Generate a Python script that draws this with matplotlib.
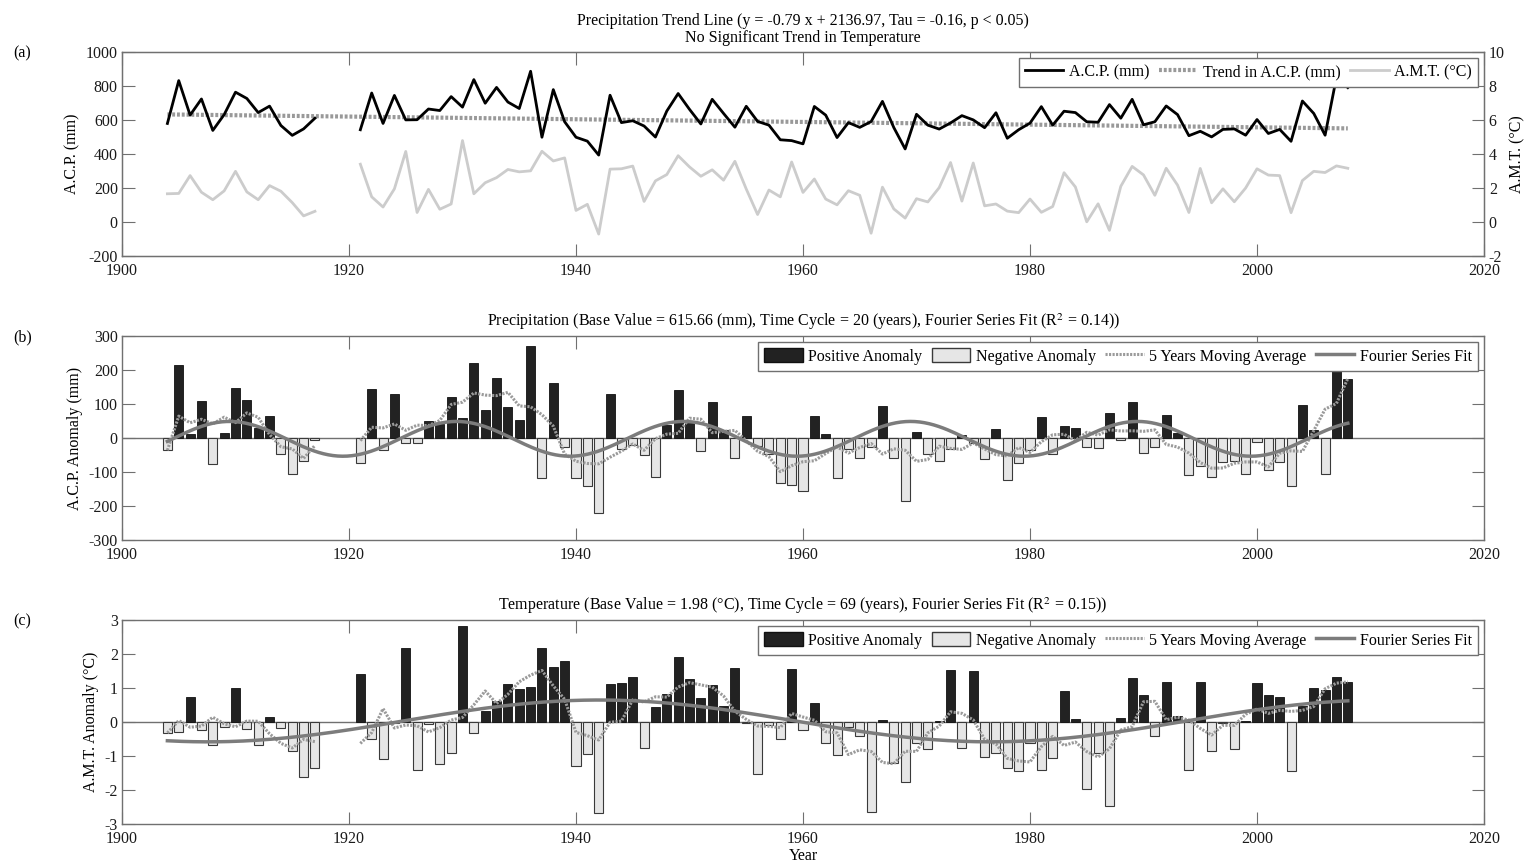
import numpy as np
import matplotlib
matplotlib.use('Agg')
import matplotlib.pyplot as plt
from matplotlib.patches import Patch
from matplotlib.lines import Line2D

plt.rcParams['font.family'] = ['Liberation Serif', 'DejaVu Serif']
plt.rcParams['font.size'] = 11.5
plt.rcParams['mathtext.fontset'] = 'stix'
plt.rcParams['axes.unicode_minus'] = False

# observation years (record missing 1918-1920)
years = list(range(1904, 1918)) + list(range(1921, 2009))

# annual cumulative precipitation anomaly (mm)
acp_anom = [-36, 216, 13, 108, -77, 16, 148, 111, 28, 66, -48, -106, -68, -5,
            -73, 143, -36, 129, -15, -14, 49, 40, 122, 60, 222, 83, 176, 90, 52, 271,
            -117, 163, -26, -117, -140, -222, 130,
            -31, -20, -51, -116, 37, 140, 47, -39, 106, 23,
            -58, 65, -24, -46, -132, -137, -156, 64, 13, -119,
            -31, -59, -25, 94, -60, -186, 18, -46, -69, -33,
            10, -15, -61, 27, -123, -73, -34, 63, -46, 36, 28, -26,
            -29, 75, -5, 106, -44, -26, 67, 16, -108, -82, -115, -71, -68, -105,
            -13, -95, -71, -141, 96, 23, -105, 235, 175]

# annual mean temperature anomaly (degC)
amt_anom = [-0.32, -0.30, 0.75, -0.23, -0.67, -0.15, 1.00, -0.21, -0.67, 0.16, -0.17, -0.84, -1.62, -1.35,
            1.42, -0.50, -1.10, -0.03, 2.17, -1.42, -0.06, -1.23, -0.92, 2.81, -0.32, 0.33,
            0.63, 1.11, 0.97, 1.03, 2.18, 1.61, 1.79, -1.30, -0.94, -2.69, 1.13,
            1.15, 1.31, -0.77, 0.44, 0.81, 1.92, 1.26, 0.71, 1.09, 0.48,
            1.59, -0.04, -1.54, -0.10, -0.50, 1.55, -0.24, 0.55, -0.63, -0.97,
            -0.14, -0.41, -2.64, 0.07, -1.21, -1.75, -0.61, -0.80, 0.04, 1.52,
            -0.75, 1.49, -1.03, -0.92, -1.34, -1.43, -0.63, -1.41, -1.07, 0.92, 0.08, -1.97,
            -0.91, -2.47, 0.12, 1.29, 0.79, -0.41, 1.18, 0.19, -1.42, 1.17, -0.85, -0.03,
            -0.79, 0.02, 1.15, 0.78, 0.75, -1.43, 0.46, 1.00, 0.93, 1.32, 1.18]

base_p = 615.66
base_t = 1.98
trend_slope = -0.79
trend_icpt = 2136.97
cycle_p = 20
cycle_t = 69

x = np.array(years, dtype=float)
acp_anom = np.array(acp_anom, dtype=float)
amt_anom = np.array(amt_anom, dtype=float)
acp = base_p + acp_anom
amt = base_t + amt_anom


def with_gap(xv, yv):
    # put a NaN where years jump so the line breaks
    cut = np.where(np.diff(xv) > 1)[0] + 1
    return np.insert(xv, cut, np.nan), np.insert(yv, cut, np.nan)


def smooth5(yv):
    # moving average, span shrinks at the ends (like matlab smooth)
    n = len(yv)
    out = []
    for i in range(n):
        k = min(i, n - 1 - i, 2)
        out.append(yv[i - k:i + k + 1].mean())
    return np.array(out)


def fourier1(xv, yv, period):
    w = 2 * np.pi / period
    A = np.column_stack([np.ones_like(xv), np.cos(w * xv), np.sin(w * xv)])
    c = np.linalg.lstsq(A, yv, rcond=None)[0]
    xs = np.linspace(xv.min(), xv.max(), 500)
    return xs, c[0] + c[1] * np.cos(w * xs) + c[2] * np.sin(w * xs)


spine_col = '#707070'
pos_col = '#222222'
neg_col = '#e6e6e6'
ma_col = '#9a9a9a'
fit_col = '#7c7c7c'
dots = (0, (0.7, 0.45))


def style_axes(ax):
    for s in ax.spines.values():
        s.set_color(spine_col)
        s.set_linewidth(1.0)
    ax.tick_params(direction='in', length=9, color=spine_col, labelcolor='#1a1a1a',
                   top=True, right=True, labelsize=11.5)
    ax.tick_params(axis='x', pad=5)
    ax.tick_params(axis='y', pad=3)
    ax.set_xlim(1900, 2020)
    ax.set_xticks(range(1900, 2021, 20))


leg_kw = dict(loc='upper right', fontsize=11.5, fancybox=False, framealpha=1,
              edgecolor=spine_col, borderaxespad=0.35, handlelength=2.4, handleheight=1.0,
              columnspacing=0.6, handletextpad=0.35, borderpad=0.4)

fig = plt.figure(figsize=(15.28, 8.65), dpi=100)
L, W, H = 122 / 1528, 1362 / 1528, 204 / 865
ax_a = fig.add_axes([L, 1 - 256 / 865, W, H])
ax_b = fig.add_axes([L, 1 - 540 / 865, W, H])
ax_c = fig.add_axes([L, 1 - 824 / 865, W, H])

# ---- (a) raw series
style_axes(ax_a)
ax_a.tick_params(right=False)
xg, pg = with_gap(x, acp)
_, tg = with_gap(x, amt)
ty = np.arange(1904, 2009)
ax_a.plot(ty, trend_slope * ty + trend_icpt, color='#999999', lw=3, ls=dots)
ax_a.plot(xg, pg, color='black', lw=2)
ax_a.set_ylim(-200, 1000)
ax_a.set_yticks(range(-200, 1001, 200))
ax_a.set_ylabel('A.C.P. (mm)', labelpad=4)

ax_t = ax_a.twinx()
ax_t.plot(xg, tg, color='#cccccc', lw=2)
ax_t.set_ylim(-2, 10)
ax_t.set_yticks(range(-2, 11, 2))
for s in ax_t.spines.values():
    s.set_color(spine_col)
ax_t.tick_params(direction='in', length=9, color=spine_col, labelcolor='#1a1a1a', labelsize=11.5)
ax_t.set_ylabel('A.M.T. (°C)', labelpad=3)

h_a = [Line2D([], [], color='black', lw=2),
       Line2D([], [], color='#999999', lw=3, ls=dots),
       Line2D([], [], color='#cccccc', lw=2)]
leg = ax_t.legend(h_a, ['A.C.P. (mm)', 'Trend in A.C.P. (mm)', 'A.M.T. (°C)'], ncol=3, **leg_kw)
leg.get_frame().set_linewidth(1.0)
ax_a.set_title('Precipitation Trend Line (y = -0.79 x + 2136.97, Tau = -0.16, p < 0.05)\n'
               'No Significant Trend in Temperature', fontsize=11.5, pad=7, linespacing=1.1)


# ---- (b), (c) anomalies
def anomaly_panel(ax, vals, period, ylim, yticks, ylabel, title):
    style_axes(ax)
    ax.axhline(0, color=spine_col, lw=1, zorder=1)
    p = vals >= 0
    ax.bar(x[p], vals[p], width=0.8, color=pos_col, edgecolor='#111111', lw=0.6, zorder=2)
    ax.bar(x[~p], vals[~p], width=0.8, color=neg_col, edgecolor='#3a3a3a', lw=0.8, zorder=2)
    xm, mg = with_gap(x, smooth5(vals))
    ax.plot(xm, mg, color=ma_col, lw=2.2, ls=dots, zorder=3)
    xs, fit = fourier1(x, vals, period)
    ax.plot(xs, fit, color=fit_col, lw=2.5, zorder=4)
    ax.set_ylim(*ylim)
    ax.set_yticks(yticks)
    ax.set_ylabel(ylabel, labelpad=4)
    ax.set_title(title, fontsize=11.5, pad=7)
    hl = [Patch(facecolor=pos_col, edgecolor='#111111'),
          Patch(facecolor=neg_col, edgecolor='#3a3a3a'),
          Line2D([], [], color=ma_col, lw=2.2, ls=dots),
          Line2D([], [], color=fit_col, lw=2.5)]
    lg = ax.legend(hl, ['Positive Anomaly', 'Negative Anomaly', '5 Years Moving Average',
                        'Fourier Series Fit'], ncol=4, **leg_kw)
    lg.set_zorder(10)
    lg.get_frame().set_linewidth(1.0)


anomaly_panel(ax_b, acp_anom, cycle_p, (-300, 300), range(-300, 301, 100), 'A.C.P. Anomaly (mm)',
              'Precipitation (Base Value = 615.66 (mm), Time Cycle = 20 (years), '
              'Fourier Series Fit (R$^2$ = 0.14))')
anomaly_panel(ax_c, amt_anom, cycle_t, (-3, 3), range(-3, 4), 'A.M.T. Anomaly (°C)',
              'Temperature (Base Value = 1.98 (°C), Time Cycle = 69 (years), '
              'Fourier Series Fit (R$^2$ = 0.15))')
ax_c.set_xlabel('Year', labelpad=1)

for lab, yp in [('(a)', 53), ('(b)', 337), ('(c)', 621)]:
    fig.text(13 / 1528, 1 - yp / 865, lab, fontsize=11.5, va='center', ha='left')

fig.savefig('out.png', dpi=100)
